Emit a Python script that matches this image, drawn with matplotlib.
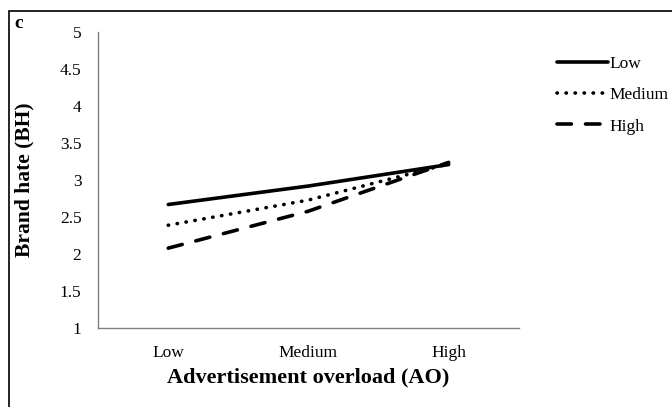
import matplotlib
matplotlib.use("Agg")
import matplotlib.pyplot as plt
from matplotlib.patches import Rectangle

# data
categories = ["Low", "Medium", "High"]
low = [2.67, 2.92, 3.21]
medium = [2.39, 2.73, 3.22]
high = [2.08, 2.58, 3.24]
series_names = ["Low", "Medium", "High"]
yticks = [1, 1.5, 2, 2.5, 3, 3.5, 4, 4.5, 5]

plt.rcParams['font.family'] = ['Liberation Serif', 'DejaVu Serif']

fig = plt.figure(figsize=(6.72, 4.07), dpi=100)
ax = fig.add_axes([0.146, 0.194, 0.626, 0.727])

x = range(len(categories))
ax.plot(x, low, color='black', lw=2.6, solid_capstyle='round', label=series_names[0])
ax.plot(x, medium, color='black', lw=2.6, linestyle=(0, (0.1, 2.4)),
        dash_capstyle='round', label=series_names[1])
ax.plot(x, high, color='black', lw=2.6, linestyle=(0, (4.0, 3.9)),
        dash_capstyle='round', label=series_names[2])

ax.set_xlim(-0.5, 2.5)
ax.set_ylim(1, 5)
ax.set_xticks(list(x))
ax.set_xticklabels(categories, fontsize=12.5)
ax.set_yticks(yticks)
ax.set_yticklabels([f"{v:g}" for v in yticks], fontsize=12.5)
ax.tick_params(axis='both', length=0)
ax.tick_params(axis='y', pad=12)
ax.tick_params(axis='x', pad=12)

for s in ['top', 'right']:
    ax.spines[s].set_visible(False)
for s in ['left', 'bottom']:
    ax.spines[s].set_color('#808080')
    ax.spines[s].set_linewidth(1.0)

ax.set_xlabel("Advertisement overload (AO)", fontsize=16, fontweight='bold', labelpad=5)
ax.set_ylabel("Brand hate (BH)", fontsize=15.5, fontweight='bold', labelpad=18)

ax.legend(loc='upper left', bbox_to_anchor=(1.092, 0.921), frameon=False,
          fontsize=12.5, handlelength=2.9, handletextpad=0.1, labelspacing=0.88,
          borderpad=0, borderaxespad=0)

# outer frame and panel letter
fig.patches.append(Rectangle((9 / 672, -0.01), 1.0, 1 - 11 / 407 + 0.01,
                             transform=fig.transFigure, fill=False,
                             edgecolor='black', lw=1.2))
fig.text(14 / 672, 1 - 23 / 407, "c", fontsize=14, fontweight='bold', va='center')

fig.savefig("out.png", dpi=100)
